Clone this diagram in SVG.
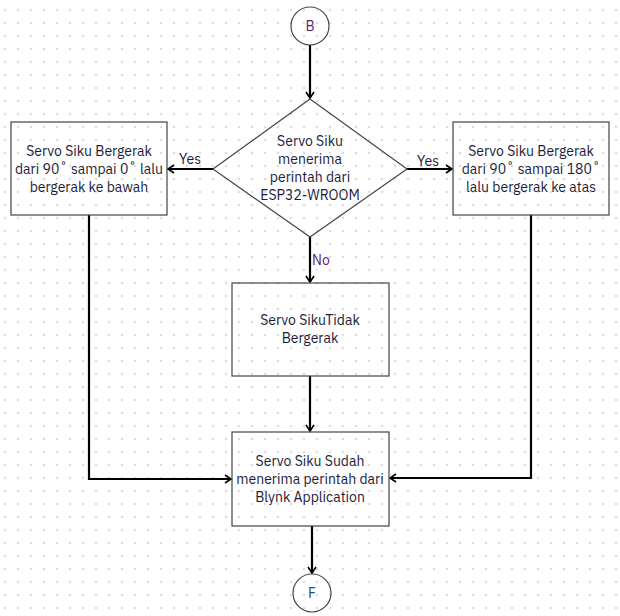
<svg xmlns="http://www.w3.org/2000/svg" width="620" height="616" viewBox="0 0 620 616">
<defs>
<pattern id="dots" x="0" y="0" width="13" height="13" patternUnits="userSpaceOnUse">
<circle cx="5" cy="10" r="1.3" fill="#dcdde3"/>
</pattern>
<marker id="arr" markerWidth="10" markerHeight="10" refX="7" refY="5" orient="auto" markerUnits="userSpaceOnUse">
<path d="M1,1 L7,5 L1,9" fill="none" stroke="#000" stroke-width="1.6"/>
</marker>
<style>
.shape{fill:none;stroke:#444;stroke-width:1.2}
.t{font-family:"IBM Plex Sans","Noto Sans","Liberation Sans",sans-serif;font-size:14px;fill:#1c1c3a;text-anchor:middle}
.lbl{font-family:"IBM Plex Sans","Noto Sans","Liberation Sans",sans-serif;font-size:14px;fill:#1c1c3a}
.no{fill:#5c1f73}
.c{fill:none;stroke:#000;stroke-width:2.2;marker-end:url(#arr)}
</style>
</defs>
<rect width="620" height="616" fill="#ffffff"/>
<rect width="620" height="616" fill="url(#dots)"/>

<g id="connectors">
<line class="c" x1="310" y1="45" x2="310" y2="98"/>
<line class="c" x1="213" y1="169" x2="168" y2="169"/>
<line class="c" x1="407" y1="169" x2="452" y2="169"/>
<line class="c" x1="310" y1="237" x2="310" y2="282"/>
<line class="c" x1="310" y1="376" x2="310" y2="431"/>
<polyline class="c" points="89,215 89,479 231,479"/>
<polyline class="c" points="531,215 531,478 390,478"/>
<line class="c" x1="312" y1="526" x2="312" y2="573"/>
<text class="lbl" x="179" y="164">Yes</text>
<text class="lbl" x="417" y="166">Yes</text>
<text class="lbl no" x="312" y="265">No</text>
</g>

<g id="start">
<circle class="shape" cx="310" cy="26" r="19"/>
<text class="t no" x="310" y="31">B</text>
</g>

<g id="decision">
<polygon class="shape" points="310,99 407,169 310,237 213,169"/>
<text class="t" x="310" y="146">Servo Siku</text>
<text class="t" x="310" y="164">menerima</text>
<text class="t" x="310" y="182">perintah dari</text>
<text class="t" x="310" y="200">ESP32-WROOM</text>
</g>

<g id="left">
<rect class="shape" x="11" y="122" width="156" height="93"/>
<text class="t" x="89" y="156">Servo Siku Bergerak</text>
<text class="t" x="89" y="174">dari 90˚ sampai 0˚ lalu</text>
<text class="t" x="89" y="192">bergerak ke bawah</text>
</g>

<g id="right">
<rect class="shape" x="453" y="122" width="156" height="93"/>
<text class="t" x="531" y="156">Servo Siku Bergerak</text>
<text class="t" x="531" y="174">dari 90˚ sampai 180˚</text>
<text class="t" x="531" y="192">lalu bergerak ke atas</text>
</g>

<g id="idle">
<rect class="shape" x="232" y="283" width="157" height="93"/>
<text class="t" x="310" y="325">Servo SikuTidak</text>
<text class="t" x="310" y="343">Bergerak</text>
</g>

<g id="done">
<rect class="shape" x="232" y="432" width="157" height="94"/>
<text class="t" x="310" y="466">Servo Siku Sudah</text>
<text class="t" x="310" y="484">menerima perintah dari</text>
<text class="t" x="310" y="502">Blynk Application</text>
</g>

<g id="end">
<circle class="shape" cx="312" cy="593" r="19"/>
<text class="t" x="312" y="598" style="fill:#2a4a7a">F</text>
</g>
</svg>
